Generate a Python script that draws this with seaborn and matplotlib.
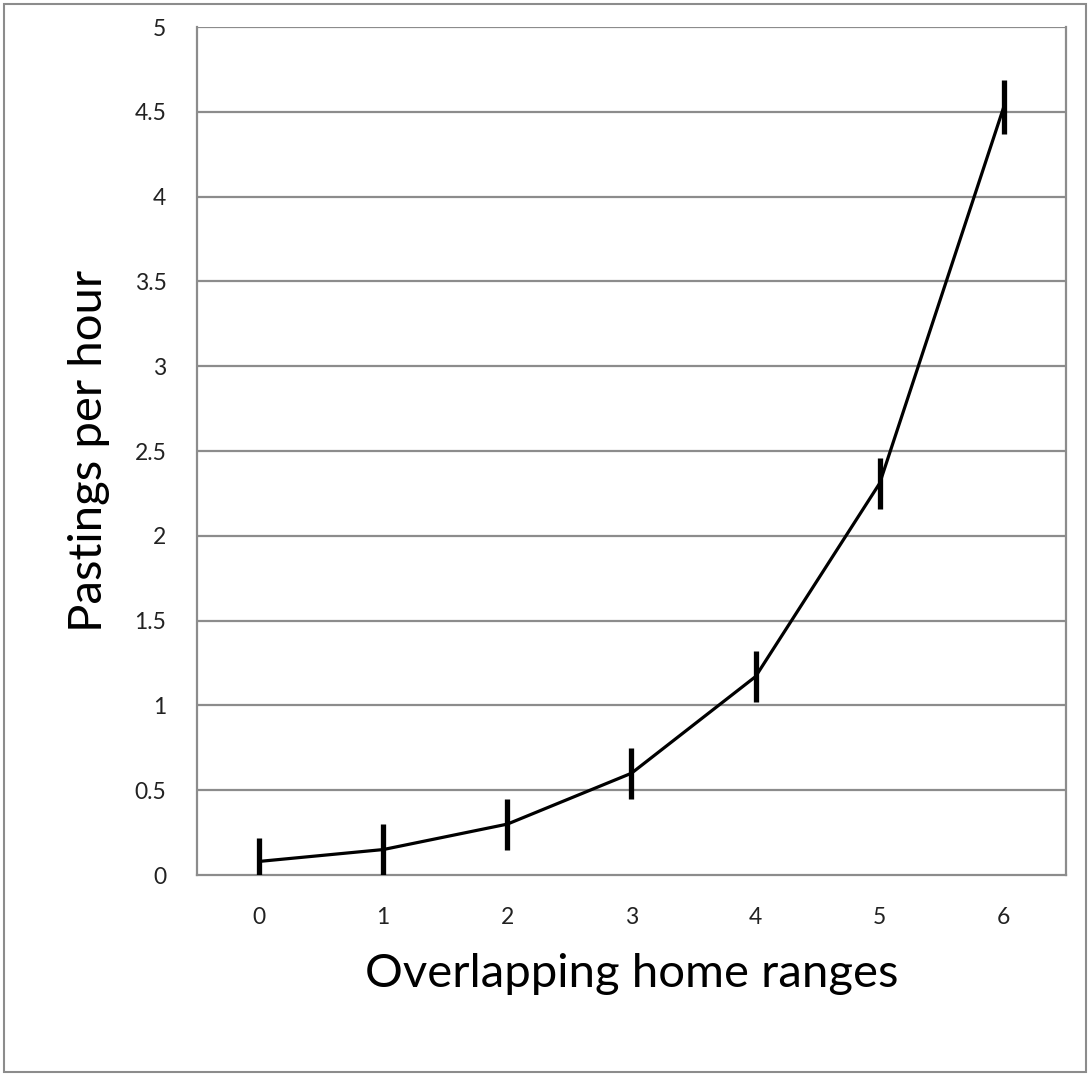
import numpy as np
import pandas as pd
import matplotlib
matplotlib.use("Agg")
import matplotlib.pyplot as plt
import seaborn as sns
from matplotlib.patches import Rectangle

# data
overlap = [0, 1, 2, 3, 4, 5, 6]
pastings = [0.08, 0.15, 0.30, 0.60, 1.17, 2.31, 4.53]
err = [0.14, 0.15, 0.15, 0.15, 0.15, 0.15, 0.16]
y_ticks = [0, 0.5, 1, 1.5, 2, 2.5, 3, 3.5, 4, 4.5, 5]
y_tick_labels = ["0", "0.5", "1", "1.5", "2", "2.5", "3", "3.5", "4", "4.5", "5"]

df = pd.DataFrame({"overlap": overlap, "pastings": pastings, "err": err})

sns.set_style("white")
plt.rcParams["font.family"] = ["Lato", "DejaVu Sans"]

grey = "#8c8c8c"

fig = plt.figure(figsize=(10.9, 10.76), dpi=100)
ax = fig.add_axes([0.1807, 0.1868, 0.7972, 0.7881])

# outer chart border
fig.patches.append(Rectangle((4 / 1090, 4 / 1076), 1 - 8 / 1090, 1 - 8 / 1076,
                             transform=fig.transFigure, fill=False,
                             edgecolor=grey, linewidth=1.5))

for y in y_ticks[1:]:
    ax.axhline(y, color=grey, linewidth=1.6, zorder=1)

sns.lineplot(data=df, x="overlap", y="pastings", color="black",
             linewidth=2.3, ax=ax, zorder=3)

ax.errorbar(df["overlap"], df["pastings"], yerr=df["err"], fmt="none",
            ecolor="black", elinewidth=3.8, capsize=0, zorder=4)

ax.set_xlim(-0.5, 6.5)
ax.set_ylim(0, 5)
ax.set_yticks(y_ticks)
ax.set_yticklabels(y_tick_labels)
ax.set_xticks(overlap)
ax.set_xticklabels([str(v) for v in overlap])
ax.set_xticks(np.arange(-0.5, 7.0, 1.0), minor=True)

ax.tick_params(axis="y", which="major", length=7, width=1.5, color=grey,
               labelsize=16.5, labelcolor="#222222", pad=15)
ax.tick_params(axis="x", which="major", length=0, labelsize=16.5,
               labelcolor="#222222", pad=23)
ax.tick_params(axis="x", which="minor", length=9, width=1.5, color=grey)

for side in ["left", "bottom", "right"]:
    ax.spines[side].set_visible(True)
    ax.spines[side].set_color(grey)
    ax.spines[side].set_linewidth(1.6)
ax.spines["top"].set_visible(False)

ax.set_xlabel("Overlapping home ranges", fontsize=34, color="black", labelpad=18)
ax.set_ylabel("Pastings per hour", fontsize=34, color="black", labelpad=18)

fig.savefig("out.png", dpi=100)
